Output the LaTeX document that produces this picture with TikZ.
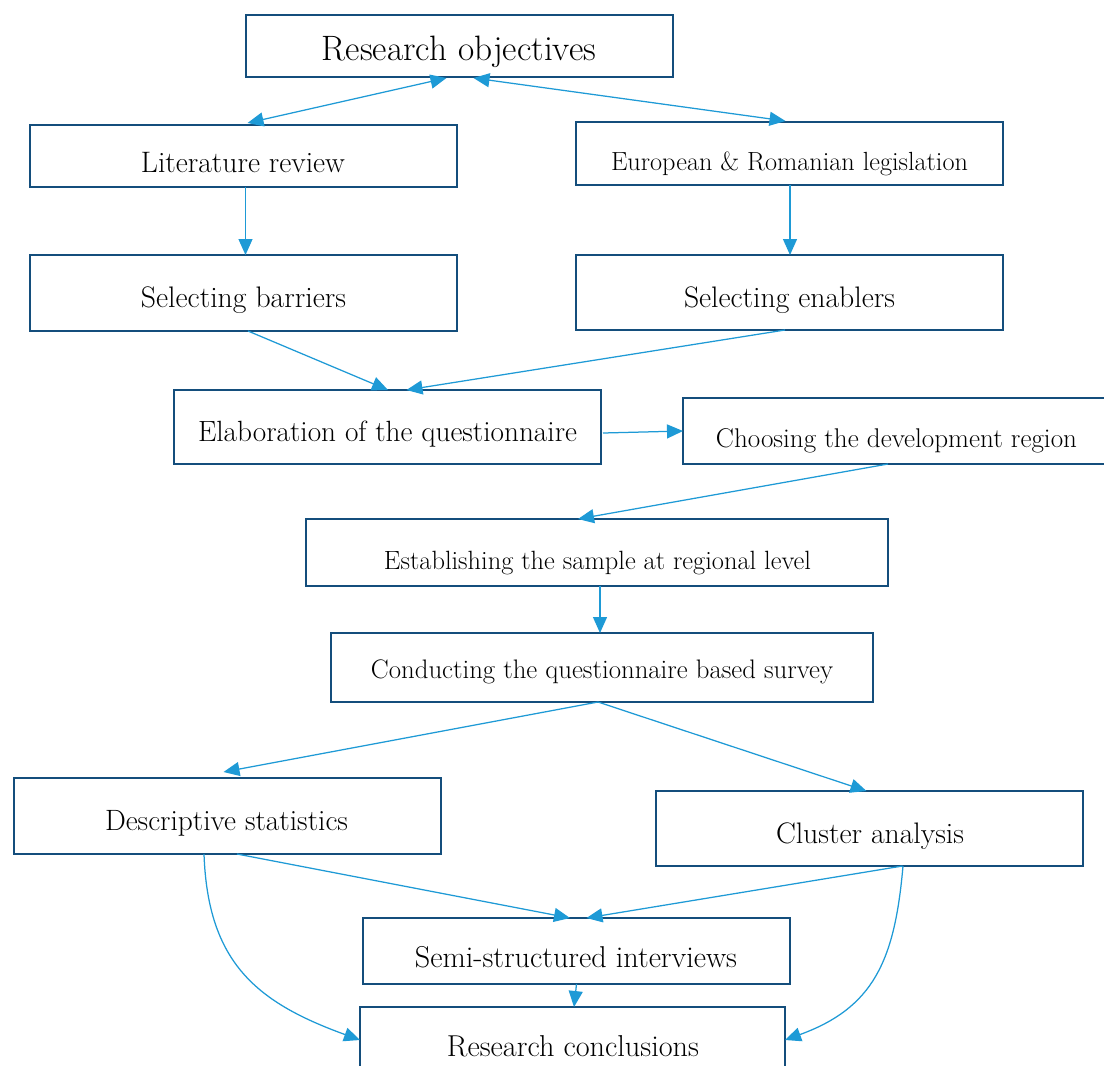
\documentclass[tikz,border=0pt]{standalone}
\usepackage{fontspec}
\usepackage{graphicx}
\usetikzlibrary{arrows.meta}
\definecolor{boxblue}{RGB}{20,78,124}
\definecolor{arrblue}{RGB}{30,154,214}
\newcommand\fitw[2]{\resizebox{#1pt}{!}{#2}}
\tikzset{
  box/.style={draw=boxblue, line width=2.9pt, rectangle, inner sep=0pt, outer sep=0pt, fill=white},
  txt/.style={anchor=base, inner sep=0pt, outer sep=0pt, font=\fontsize{20}{24}\selectfont},
  arr/.style={draw=arrblue, line width=1.25pt, -{Triangle[length=16pt,width=14pt]}},
  dbl/.style={draw=arrblue, line width=1.25pt, {Triangle[length=16pt,width=14pt]}-{Triangle[length=16pt,width=14pt]}}
}
\begin{document}
\begin{tikzpicture}[x=1pt,y=1pt]
\useasboundingbox (0,0) rectangle (1104,-1066);
\clip (0,0) rectangle (1104,-1066);
\fill[white] (0,0) rectangle (1104,-1066);
% boxes
\node[box,minimum width=427pt,minimum height=62pt] (obj) at (459.5,-46) {};
\node[box,minimum width=427pt,minimum height=62pt] (lit) at (243.5,-156) {};
\node[box,minimum width=427pt,minimum height=63pt] (eu) at (789.5,-153.5) {};
\node[box,minimum width=427pt,minimum height=76pt] (bar) at (243.5,-293) {};
\node[box,minimum width=427pt,minimum height=75pt] (ena) at (789.5,-292.5) {};
\node[box,minimum width=427pt,minimum height=74pt] (ela) at (387.5,-427) {};
\node[box,minimum width=427pt,minimum height=66pt] (cho) at (896.5,-431) {};
\node[box,minimum width=582pt,minimum height=67pt] (est) at (597,-552.5) {};
\node[box,minimum width=542pt,minimum height=69pt] (con) at (602,-667.5) {};
\node[box,minimum width=427pt,minimum height=76pt] (des) at (227.5,-816) {};
\node[box,minimum width=427pt,minimum height=75pt] (clu) at (869.5,-828.5) {};
\node[box,minimum width=427pt,minimum height=66pt] (sem) at (576.5,-951) {};
\node[box,minimum width=425pt,minimum height=90pt] (rc) at (572.5,-1052) {};
% texts
\node[txt] (objT) at (459,-60) {\fitw{274}{Research objectives}};
\node[txt] (litT) at (243,-172) {\fitw{204}{Literature review}};
\node[txt] (euT) at (789.5,-170) {\fitw{357}{European \& Romanian legislation}};
\node[txt] (barT) at (243.5,-307) {\fitw{205}{Selecting barriers}};
\node[txt] (enaT) at (789.5,-307) {\fitw{211}{Selecting enablers}};
\node[txt] (elaT) at (387.5,-441) {\fitw{379}{Elaboration of the questionnaire}};
\node[txt] (choT) at (896.5,-447) {\fitw{361}{Choosing the development region}};
\node[txt] (estT) at (597.5,-569) {\fitw{427}{Establishing the sample at regional level}};
\node[txt] (conT) at (602,-678) {\fitw{462}{Conducting the questionnaire based survey}};
\node[txt] (desT) at (226.5,-830) {\fitw{243}{Descriptive statistics}};
\node[txt] (cluT) at (870,-843) {\fitw{188}{Cluster analysis}};
\node[txt] (semT) at (576,-967) {\fitw{322}{Semi-structured interviews}};
\node[txt] (rcT) at (573,-1056) {\fitw{252}{Research conclusions}};
% connectors
\draw[dbl] ([xshift=-13pt,yshift=-1pt]obj.south) -- ([xshift=4pt,yshift=2pt]lit.north);
\draw[dbl] ([xshift=14pt,yshift=-1pt]obj.south) -- ([xshift=-4pt,yshift=1pt]eu.north);
\draw[arr] ([xshift=2pt]lit.south) -- ([xshift=2pt]bar.north);
\draw[arr] ([xshift=0.5pt]eu.south) -- ([xshift=0.5pt]ena.north);
\draw[arr] ([xshift=4.5pt]bar.south) -- ([xshift=0.5pt]ela.north);
\draw[arr] ([xshift=-4.5pt]ena.south) -- ([xshift=19pt]ela.north);
\draw[arr] ([xshift=2pt,yshift=-6pt]ela.east) -- (cho.west);
\draw[arr] ([xshift=-8.5pt]cho.south) -- ([xshift=-19pt]est.north);
\draw[arr] ([xshift=3pt]est.south) -- ([xshift=-2pt]con.north);
\draw[arr] ([xshift=-4pt]con.south) -- ([xshift=-4pt,yshift=6pt]des.north);
\draw[arr] ([xshift=-4pt]con.south) -- ([xshift=-3pt]clu.north);
\draw[arr] ([xshift=9.5pt]des.south) -- ([xshift=-6.5pt]sem.north);
\draw[arr] ([xshift=33pt]clu.south) -- ([xshift=10pt]sem.north);
\draw[arr] (sem.south) -- ([xshift=1.5pt]rc.north);
\draw[arr] ([xshift=-23.5pt]des.south) to[out=-88,in=160,looseness=1.15] ([yshift=12pt]rc.west);
\draw[arr] ([xshift=33.5pt]clu.south) to[out=-95,in=20,looseness=1.15] ([yshift=12pt]rc.east);
\end{tikzpicture}
\end{document}
